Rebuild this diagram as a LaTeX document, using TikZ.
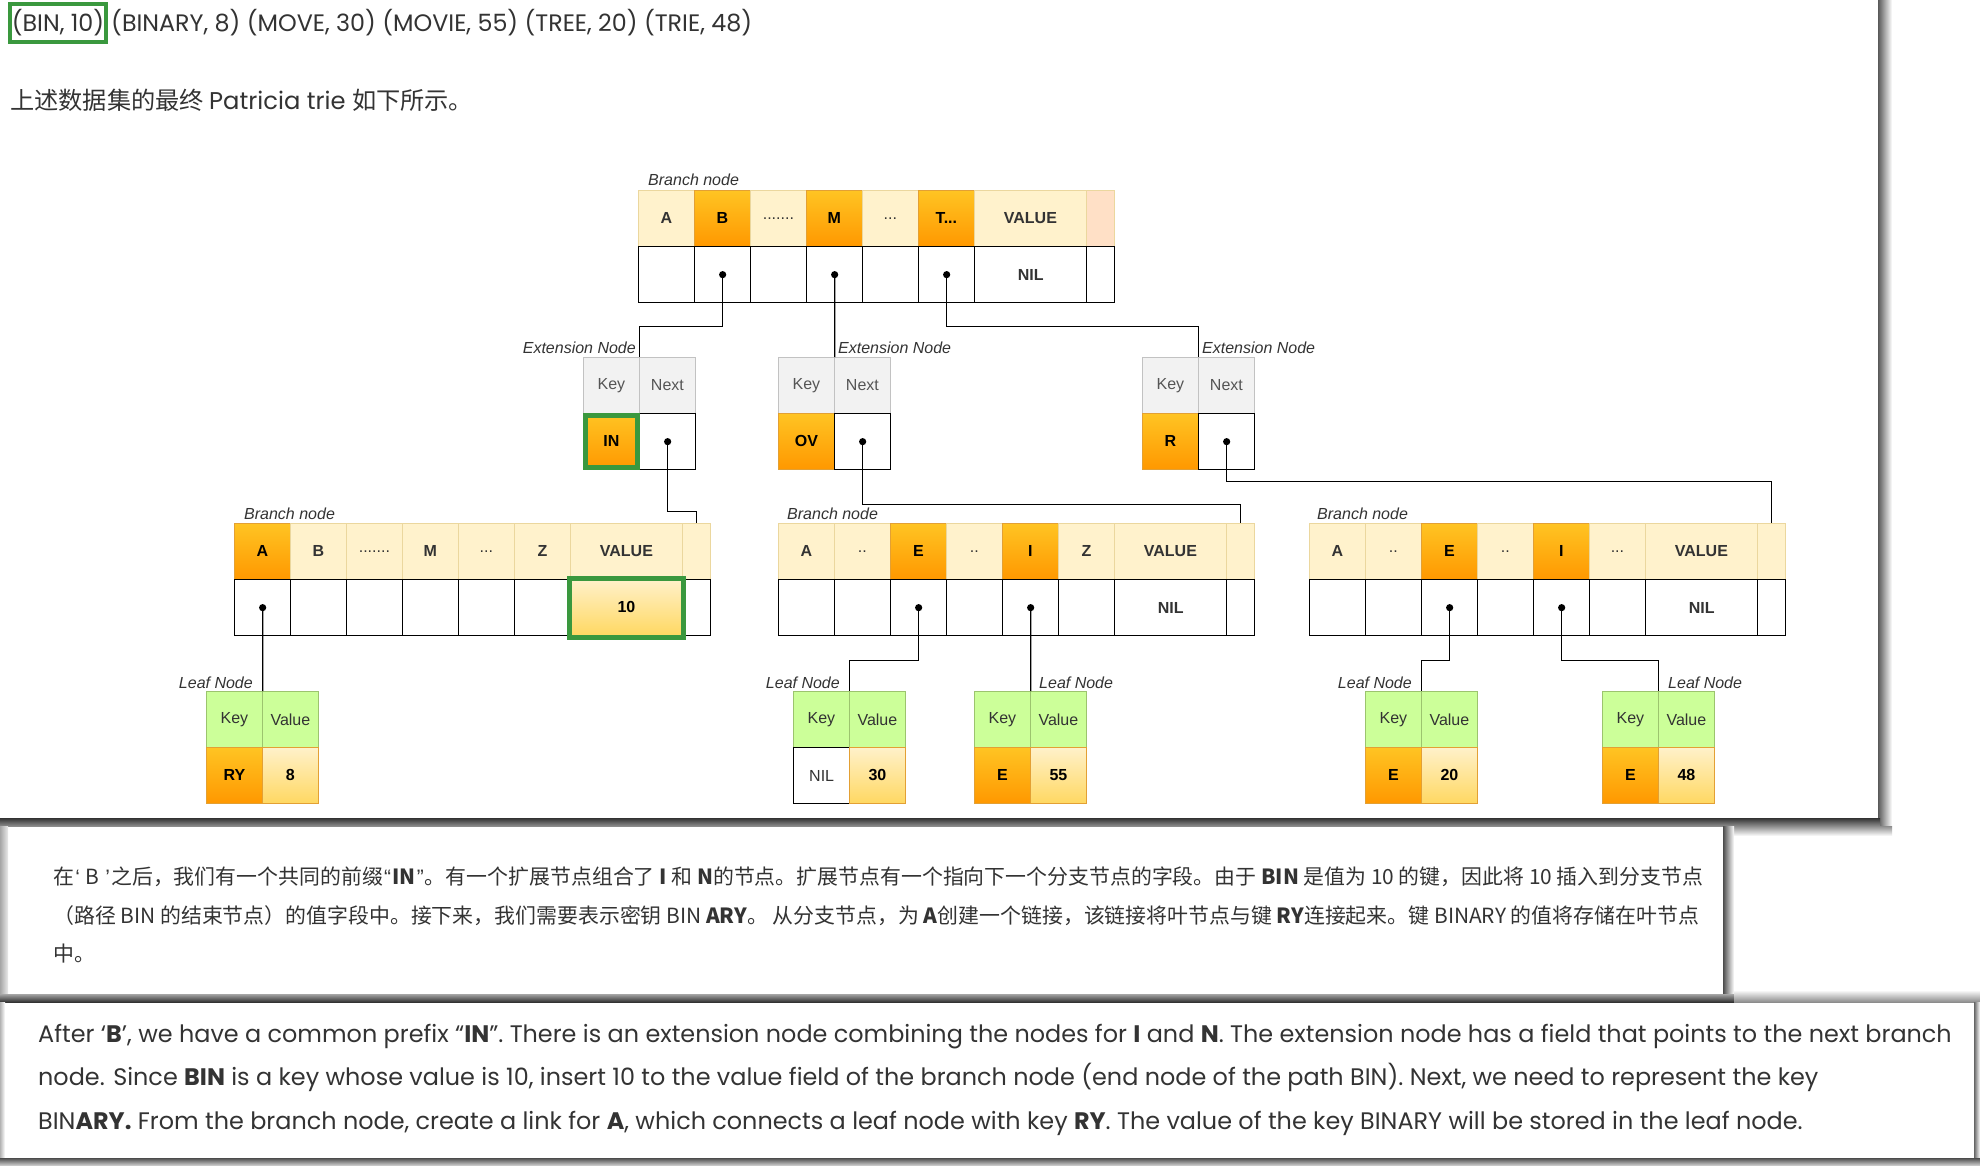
\documentclass[tikz,border=0pt]{standalone}
\usepackage{fontspec}
\setmainfont{Liberation Sans}
\newfontfamily\popf{Poppins}
\newfontfamily\cjkf{Noto Sans CJK SC}
\definecolor{lt}{HTML}{FFF2CC}
\definecolor{ltd}{HTML}{EBD79E}
\definecolor{hotT}{HTML}{FFC423}
\definecolor{hotB}{HTML}{FF9800}
\definecolor{hotd}{HTML}{E3A034}
\definecolor{peach}{HTML}{FFE0C6}
\definecolor{gry}{HTML}{F2F2F2}
\definecolor{gryd}{HTML}{C2C2C2}
\definecolor{grn}{HTML}{CCFF99}
\definecolor{grnd}{HTML}{9CC46E}
\definecolor{valT}{HTML}{FFF1CA}
\definecolor{valB}{HTML}{FFD862}
\definecolor{hl}{HTML}{3A983E}
\definecolor{txt}{HTML}{333333}
\definecolor{txtg}{HTML}{555555}
\newcommand\Cell[6]{\node[#5, minimum width=#4pt] (#1) at (#2,#3) {#6};}
\newcommand\q[1]{\hspace{1.2pt}{\rmfamily #1}\hspace{1.2pt}}
\tikzset{
  cellbase/.style={anchor=north west, inner sep=0pt, minimum height=56pt,
    font=\fontsize{16}{19}\selectfont\bfseries, text=txt},
  lite/.style={cellbase, fill=lt, draw=ltd, line width=0.8pt},
  peachc/.style={cellbase, fill=peach, draw=ltd, line width=0.8pt},
  hot/.style={cellbase, top color=hotT, bottom color=hotB, draw=hotd, line width=0.8pt, text=black},
  ptr/.style={cellbase, fill=white, draw=black, line width=1.3pt},
  valc/.style={cellbase, top color=valT, bottom color=valB, draw=hotd, line width=0.8pt, text=black},
  exthead/.style={cellbase, fill=gry, draw=gryd, line width=0.8pt, font=\fontsize{16}{19}\selectfont, text=txtg},
  leafhead/.style={cellbase, fill=grn, draw=grnd, line width=0.8pt, font=\fontsize{16}{19}\selectfont, text=txt},
  wire/.style={draw=black, line width=1.3pt},
  lab/.style={inner sep=0pt, font=\fontsize{16}{19}\selectfont\itshape, text=txt},
  hlbox/.style={draw=hl, line width=5pt},
  entext/.style={inner sep=0pt, anchor=base west, font=\popf\fontsize{23.9}{28}\selectfont, text=txt},
  zhtext/.style={inner sep=0pt, anchor=west, font=\cjkf\fontsize{20.9}{25}\selectfont, text=txt},
}
\begin{document}
\begin{tikzpicture}[x=1pt,y=-1pt]
\useasboundingbox (0,0) rectangle (1980,1166);
\fill[white] (0,0) rectangle (1980,1166);
% ---------- panel shadows ----------
\shade[left color=black!65, right color=white] (1878,0) rectangle (1892,826);
\shade[top color=black!80, bottom color=black!45] (0,818) rectangle (1880,826);
\shade[top color=black!45, bottom color=white] (1734,826) rectangle (1892,836);
\shade[left color=black!35, right color=black!8] (0,826) rectangle (8,994);
\shade[left color=black!70, right color=white] (1723,826) rectangle (1734,1000);
\shade[top color=black!35, bottom color=black!80] (0,994) rectangle (1734,1002);
\shade[top color=white, bottom color=black!45] (1734,990) rectangle (1980,1002);
\shade[left color=black!30, right color=white] (0,1002) rectangle (5,1160);
\shade[left color=black!60, right color=white] (1974,1002) rectangle (1980,1160);
\shade[top color=black!70, bottom color=black!15] (0,1158) rectangle (1980,1166);

% ---------- heading text ----------
\node[draw=hl, line width=4pt, minimum width=96pt, minimum height=38pt, inner sep=0pt,
  anchor=north west, font=\popf\fontsize{23.8}{28}\selectfont, text=txt] (bin) at (8,2) {(BIN, 10)};
\node[anchor=west, inner sep=0pt, font=\popf\fontsize{23.8}{28}\selectfont, text=txt] (rest)
  at ([xshift=3pt]bin.east) {(BINARY, 8) (MOVE, 30) (MOVIE, 55) (TREE, 20) (TRIE, 48)};
\node[anchor=base west, inner sep=0pt, font=\fontsize{24.2}{28}\selectfont, text=txt] (head) at (10,110)
  {\cjkf 上述数据集的最终 \popf Patricia trie \cjkf 如下所示。};

% ---------- top branch ----------
\node[lab, anchor=base west] (lT) at (648,186) {Branch node};
\Cell{T1}{638}{190}{56}{lite}{A}
\Cell{T2}{694}{190}{56}{hot}{B}
\Cell{T3}{750}{190}{56}{lite}{\mdseries .......}
\Cell{T4}{806}{190}{56}{hot}{M}
\Cell{T5}{862}{190}{56}{lite}{\mdseries ...}
\Cell{T6}{918}{190}{56}{hot}{T...}
\Cell{T7}{974}{190}{112}{lite}{VALUE}
\Cell{T8}{1086}{190}{28}{peachc}{}
\Cell{Tb1}{638}{246}{56}{ptr}{}
\Cell{Tb2}{694}{246}{56}{ptr}{}
\Cell{Tb3}{750}{246}{56}{ptr}{}
\Cell{Tb4}{806}{246}{56}{ptr}{}
\Cell{Tb5}{862}{246}{56}{ptr}{}
\Cell{Tb6}{918}{246}{56}{ptr}{}
\Cell{Tb7}{974}{246}{112}{ptr}{NIL}
\Cell{Tb8}{1086}{246}{28}{ptr}{}

% ---------- extension nodes ----------
\node[lab, anchor=base east] (lE1) at (636,353) {Extension Node};
\Cell{E1k}{583}{357}{56}{exthead}{Key}
\Cell{E1n}{639}{357}{56}{exthead}{Next}
\Cell{E1kv}{583}{413}{56}{hot}{IN}
\Cell{E1nv}{639}{413}{56}{ptr}{}
\node[lab, anchor=base west] (lE2) at (838,353) {Extension Node};
\Cell{E2k}{778}{357}{56}{exthead}{Key}
\Cell{E2n}{834}{357}{56}{exthead}{Next}
\Cell{E2kv}{778}{413}{56}{hot}{OV}
\Cell{E2nv}{834}{413}{56}{ptr}{}
\node[lab, anchor=base west] (lE3) at (1202,353) {Extension Node};
\Cell{E3k}{1142}{357}{56}{exthead}{Key}
\Cell{E3n}{1198}{357}{56}{exthead}{Next}
\Cell{E3kv}{1142}{413}{56}{hot}{R}
\Cell{E3nv}{1198}{413}{56}{ptr}{}

% ---------- branch L ----------
\node[lab, anchor=base west] (lL) at (244,519) {Branch node};
\Cell{L1}{234}{523}{56}{hot}{A}
\Cell{L2}{290}{523}{56}{lite}{B}
\Cell{L3}{346}{523}{56}{lite}{\mdseries .......}
\Cell{L4}{402}{523}{56}{lite}{M}
\Cell{L5}{458}{523}{56}{lite}{\mdseries ...}
\Cell{L6}{514}{523}{56}{lite}{Z}
\Cell{L7}{570}{523}{112}{lite}{VALUE}
\Cell{L8}{682}{523}{28}{lite}{}
\Cell{Lb1}{234}{579}{56}{ptr}{}
\Cell{Lb2}{290}{579}{56}{ptr}{}
\Cell{Lb3}{346}{579}{56}{ptr}{}
\Cell{Lb4}{402}{579}{56}{ptr}{}
\Cell{Lb5}{458}{579}{56}{ptr}{}
\Cell{Lb6}{514}{579}{56}{ptr}{}
\Cell{Lb8}{682}{579}{28}{ptr}{}
\Cell{Lb7}{570}{579}{112}{valc}{10}

% ---------- branch M ----------
\node[lab, anchor=base west] (lM) at (787,519) {Branch node};
\Cell{M1}{778}{523}{56}{lite}{A}
\Cell{M2}{834}{523}{56}{lite}{\mdseries ..}
\Cell{M3}{890}{523}{56}{hot}{E}
\Cell{M4}{946}{523}{56}{lite}{\mdseries ..}
\Cell{M5}{1002}{523}{56}{hot}{I}
\Cell{M6}{1058}{523}{56}{lite}{Z}
\Cell{M7}{1114}{523}{112}{lite}{VALUE}
\Cell{M8}{1226}{523}{28}{lite}{}
\Cell{Mb1}{778}{579}{56}{ptr}{}
\Cell{Mb2}{834}{579}{56}{ptr}{}
\Cell{Mb3}{890}{579}{56}{ptr}{}
\Cell{Mb4}{946}{579}{56}{ptr}{}
\Cell{Mb5}{1002}{579}{56}{ptr}{}
\Cell{Mb6}{1058}{579}{56}{ptr}{}
\Cell{Mb7}{1114}{579}{112}{ptr}{NIL}
\Cell{Mb8}{1226}{579}{28}{ptr}{}

% ---------- branch R ----------
\node[lab, anchor=base west] (lR) at (1317,519) {Branch node};
\Cell{R1}{1309}{523}{56}{lite}{A}
\Cell{R2}{1365}{523}{56}{lite}{\mdseries ..}
\Cell{R3}{1421}{523}{56}{hot}{E}
\Cell{R4}{1477}{523}{56}{lite}{\mdseries ..}
\Cell{R5}{1533}{523}{56}{hot}{I}
\Cell{R6}{1589}{523}{56}{lite}{\mdseries ...}
\Cell{R7}{1645}{523}{112}{lite}{VALUE}
\Cell{R8}{1757}{523}{28}{lite}{}
\Cell{Rb1}{1309}{579}{56}{ptr}{}
\Cell{Rb2}{1365}{579}{56}{ptr}{}
\Cell{Rb3}{1421}{579}{56}{ptr}{}
\Cell{Rb4}{1477}{579}{56}{ptr}{}
\Cell{Rb5}{1533}{579}{56}{ptr}{}
\Cell{Rb6}{1589}{579}{56}{ptr}{}
\Cell{Rb7}{1645}{579}{112}{ptr}{NIL}
\Cell{Rb8}{1757}{579}{28}{ptr}{}

% ---------- leaves ----------
\node[lab, anchor=base east] (lF1) at (253,688) {Leaf Node};
\Cell{F1k}{206}{691}{56}{leafhead}{Key}
\Cell{F1v}{262}{691}{56}{leafhead}{Value}
\Cell{F1kb}{206}{747}{56}{hot}{RY}
\Cell{F1vb}{262}{747}{56}{valc}{8}
\node[lab, anchor=base east] (lF2) at (840,688) {Leaf Node};
\Cell{F2k}{793}{691}{56}{leafhead}{Key}
\Cell{F2v}{849}{691}{56}{leafhead}{Value}
\Cell{F2kb}{793}{747}{56}{ptr}{\mdseries NIL}
\Cell{F2vb}{849}{747}{56}{valc}{30}
\node[lab, anchor=base west] (lF3) at (1039,688) {Leaf Node};
\Cell{F3k}{974}{691}{56}{leafhead}{Key}
\Cell{F3v}{1030}{691}{56}{leafhead}{Value}
\Cell{F3kb}{974}{747}{56}{hot}{E}
\Cell{F3vb}{1030}{747}{56}{valc}{55}
\node[lab, anchor=base east] (lF4) at (1412,688) {Leaf Node};
\Cell{F4k}{1365}{691}{56}{leafhead}{Key}
\Cell{F4v}{1421}{691}{56}{leafhead}{Value}
\Cell{F4kb}{1365}{747}{56}{hot}{E}
\Cell{F4vb}{1421}{747}{56}{valc}{20}
\node[lab, anchor=base west] (lF5) at (1668,688) {Leaf Node};
\Cell{F5k}{1602}{691}{56}{leafhead}{Key}
\Cell{F5v}{1658}{691}{56}{leafhead}{Value}
\Cell{F5kb}{1602}{747}{56}{hot}{E}
\Cell{F5vb}{1658}{747}{56}{valc}{48}

% ---------- connectors ----------
\draw[wire] (Tb2.center) -- ++(0,52) -| (E1k.north east);
\draw[wire] (Tb4.center) -- (E2k.north east);
\draw[wire] (Tb6.center) -- ++(0,52) -| (E3k.north east);
\draw[wire] (E1nv.center) -- ++(0,70) -| (L8.north);
\draw[wire] (E2nv.center) -- ++(0,63) -| (M8.north);
\draw[wire] (E3nv.center) -- ++(0,40) -| (R8.north);
\draw[wire] (Lb1.center) -- (F1k.north east);
\draw[wire] (Mb3.center) -- ++(0,53) -| (F2k.north east);
\draw[wire] (Mb5.center) -- (F3k.north east);
\draw[wire] (Rb3.center) -- ++(0,53) -| (F4k.north east);
\draw[wire] (Rb5.center) -- ++(0,53) -| (F5k.north east);
\foreach \n in {Tb2,Tb4,Tb6,E1nv,E2nv,E3nv,Lb1,Mb3,Mb5,Rb3,Rb5}
  \fill (\n) circle (3.6pt);

% ---------- highlights ----------
\draw[hlbox] ([shift={(2.5,2.5)}]E1kv.north west) rectangle ([shift={(-2.5,-2.5)}]E1kv.south east);
\draw[hlbox] ([shift={(-0.5,-0.5)}]Lb7.north west) rectangle ([shift={(0.5,1.5)}]Lb7.south east);

% ---------- Chinese explanation ----------
\node[zhtext] (zh1) at (53,877) {在\q{‘} B \q{’}之后，我们有一个共同的前缀\q{“}\textbf{IN}\q{”}。有一个扩展节点组合了 \textbf{I} 和 \textbf{N}的节点。扩展节点有一个指向下一个分支节点的字段。由于 \textbf{BIN} 是值为 10 的键，因此将 10 插入到分支节点};
\node[zhtext] (zh2) at (53,916) {（路径 BIN 的结束节点）的值字段中。接下来，我们需要表示密钥 BIN \textbf{ARY}。 从分支节点，为 \textbf{A}创建一个链接，该链接将叶节点与键 \textbf{RY}连接起来。键 BINARY 的值将存储在叶节点};
\node[zhtext] (zh3) at (53,954) {中。};

% ---------- English explanation ----------
\node[entext] (en1) at (38,1042) {After ‘\textbf{B}’, we have a common prefix “\textbf{IN}”. There is an extension node combining the nodes for \textbf{I} and \textbf{N}. The extension node has a field that points to the next branch};
\node[entext] (en2) at (38,1085) {node. Since \textbf{BIN} is a key whose value is 10, insert 10 to the value field of the branch node (end node of the path BIN). Next, we need to represent the key};
\node[entext] (en3) at (38,1129) {BIN\textbf{ARY.} From the branch node, create a link for \textbf{A}, which connects a leaf node with key \textbf{RY}. The value of the key BINARY will be stored in the leaf node.};
\end{tikzpicture}
\end{document}
